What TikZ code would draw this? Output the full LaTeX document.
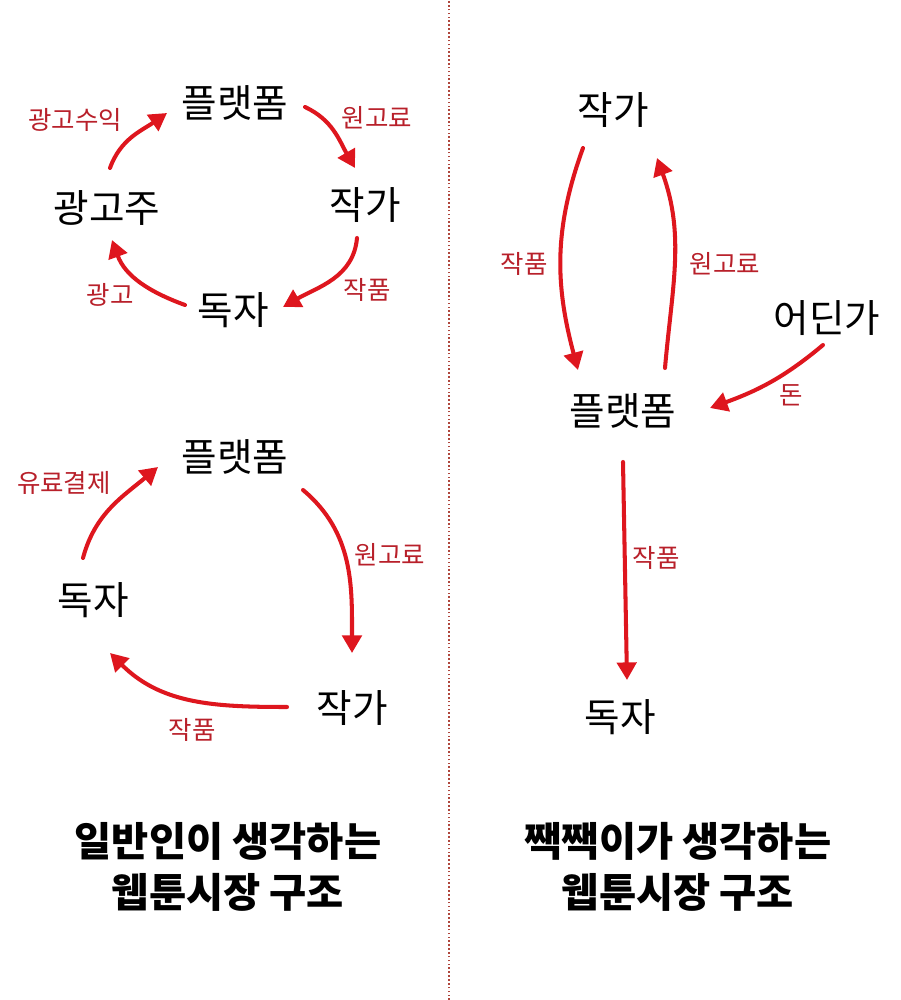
\documentclass[tikz,border=0pt]{standalone}
\usepackage{fontspec}
\setmainfont{Noto Sans CJK KR}
\usetikzlibrary{arrows.meta}
\definecolor{arrowred}{RGB}{222,22,30}
\definecolor{tagred}{RGB}{184,32,42}
\definecolor{dotred}{RGB}{175,70,60}

\begin{document}
\begin{tikzpicture}[x=0.02cm, y=0.02cm, >={Triangle[length=10pt, width=11pt]}]
    % Styles
    \tikzstyle{actor} = [inner sep=1pt, font=\fontsize{22}{26}\selectfont]
    \tikzstyle{tag} = [inner sep=1pt, text=tagred, font=\fontsize{14.5}{17}\selectfont]
    \tikzstyle{flow} = [->, line width=2.3pt, draw=arrowred, line cap=round]
    \tikzstyle{heading} = [align=center, font=\bfseries\fontsize{23}{29}\selectfont]
    \tikzstyle{divider} = [draw=dotred, line width=0.9pt, dash pattern=on 0.9pt off 1.3pt]

    \useasboundingbox (0,0) rectangle (900,1000);

    % Divider
    \draw[divider] (449,0) -- (449,1000);

    % Nodes: common view, with ads
    \node[actor] (platA) at (235,897) {플랫폼};
    \node[actor] (writerA) at (365,795) {작가};
    \node[actor] (readerA) at (233,690) {독자};
    \node[actor] (adv) at (107,792) {광고주};

    % Nodes: common view, paid
    \node[actor] (platB) at (235,543) {플랫폼};
    \node[actor] (writerB) at (352,292) {작가};
    \node[actor] (readerB) at (93,400) {독자};

    % Nodes: the other view
    \node[actor] (writerC) at (613,890) {작가};
    \node[actor] (source) at (827,682) {어딘가};
    \node[actor] (platC) at (623,589) {플랫폼};
    \node[actor] (readerC) at (620,283) {독자};

    % Labels
    \node[tag] (adIncome) at (75,880) {광고수익};
    \node[tag] (feeA) at (377,882) {원고료};
    \node[tag] (workA) at (367,710) {작품};
    \node[tag] (adA) at (110,705) {광고};
    \node[tag] (payB) at (64,517) {유료결제};
    \node[tag] (feeB) at (390,445) {원고료};
    \node[tag] (workB) at (192,270) {작품};
    \node[tag] (workC) at (524,736) {작품};
    \node[tag] (feeC) at (725,736) {원고료};
    \node[tag] (money) at (791,605) {돈};
    \node[tag] (workD) at (656,442) {작품};

    % Arrows: common view, with ads
    \draw[flow] ([shift={(3,40)}]adv.center) to[out=70, in=215] ([shift={(-68,-10)}]platA.center);
    \draw[flow] ([shift={(70,-4)}]platA.center) to[out=-25, in=120] ([shift={(-10,37)}]writerA.center);
    \draw[flow] ([shift={(-8,-33)}]writerA.center) to[out=-95, in=30] ([shift={(50,3)}]readerA.center);
    \draw[flow] ([shift={(-48,5)}]readerA.center) to[out=160, in=-70] ([shift={(5,-32)}]adv.center);

    % Arrows: common view, paid
    \draw[flow] ([shift={(-10,42)}]readerB.center) to[out=75, in=220] ([shift={(-77,-10)}]platB.center);
    \draw[flow] ([shift={(68,-33)}]platB.center) to[out=-40, in=90] ([shift={(0,55)}]writerB.center);
    \draw[flow] ([shift={(-65,1)}]writerB.center) to[out=180, in=-45] ([shift={(17,-53)}]readerB.center);

    % Arrows: the other view
    \draw[flow] ([shift={(-30,-38)}]writerC.center) to[out=-110, in=105] ([shift={(-45,41)}]platC.center);
    \draw[flow] ([shift={(42,43)}]platC.center) to[out=85, in=-70] ([shift={(44,-48)}]writerC.center);
    \draw[flow] ([shift={(-4,-27)}]source.center) to[out=-140, in=20] ([shift={(87,3)}]platC.center);
    \draw[flow] ([shift={(0,-51)}]platC.center) -- ([shift={(7,37)}]readerC.center);

    % Headings
    \node[heading] (titleL) at (228,133) {일반인이 생각하는\\웹툰시장 구조};
    \node[heading] (titleR) at (678,133) {짹짹이가 생각하는\\웹툰시장 구조};

\end{tikzpicture}
\end{document}
